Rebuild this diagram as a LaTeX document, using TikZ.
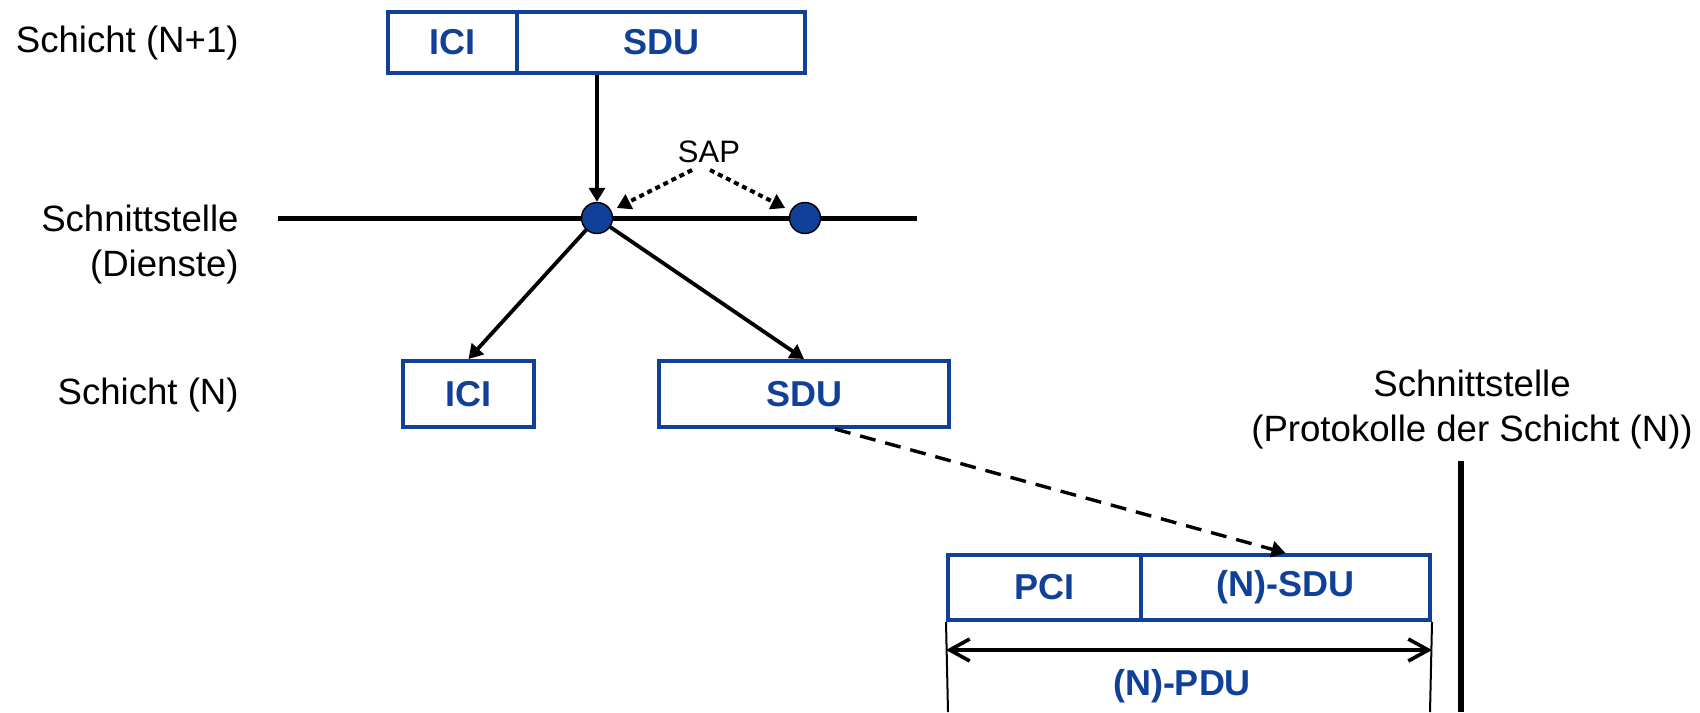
\documentclass[tikz,border=0pt]{standalone}
\usepackage{fontspec}
\setmainfont{Liberation Sans}
\usetikzlibrary{arrows.meta}
\definecolor{osiblue}{RGB}{16,64,152}
\begin{document}
\begin{tikzpicture}[x=0.5pt,y=-0.5pt,
  pdu/.style={draw=osiblue,line width=2pt,rectangle,inner sep=0pt,
    text=osiblue,font=\bfseries\fontsize{18}{22}\selectfont},
  lbl/.style={font=\fontsize{18.3}{22.5}\selectfont,inner sep=0pt},
  sap/.style={circle,fill=osiblue,draw=black,line width=0.7pt,minimum size=15.5pt,inner sep=0pt},
  arr/.style={line width=1.9pt,-{Triangle[length=7pt,width=8pt]}},
  dotarr/.style={line width=2pt,dash pattern=on 2.5pt off 2pt,-{Triangle[length=7pt,width=8pt]}},
  dasharr/.style={line width=1.7pt,dash pattern=on 8pt off 5pt,-{Triangle[length=7pt,width=8pt]}},
  dimarr/.style={line width=1.8pt,{Straight Barb[length=10pt,width=11pt]}-{Straight Barb[length=10pt,width=11pt]}}]
\useasboundingbox (0,0) rectangle (1700,712);

% layer labels
\node[lbl,anchor=east] (lNp1) at (239,43) {Schicht (N+1)};
\node[lbl,anchor=east,align=right] (lIf) at (239,244.5) {Schnittstelle\\(Dienste)};
\node[lbl,anchor=east] (lN) at (239,395) {Schicht (N)};
\node[lbl,align=center] (lProt) at (1472,410) {Schnittstelle\\(Protokolle der Schicht (N))};

% layer (N+1)
\node[pdu,minimum width=64.5pt,minimum height=30.5pt] (ici1) at (452.5,42.5) {ICI};
\node[pdu,minimum width=144pt,minimum height=30.5pt] (sdu1) at (661,42.5) {SDU};

% service interface with access points
\coordinate (ifL) at (278,218);
\coordinate (ifR) at (917,218);
\draw[line width=2.5pt] (ifL) -- (ifR);
\node[sap] (c1) at (597,218) {};
\node[sap] (c2) at (805,218) {};
\node[font=\fontsize{15.5}{18}\selectfont,inner sep=0pt] (saplbl) at (709,152) {SAP};
\coordinate (sapL) at (692,170);
\coordinate (sapR) at (710,170);
\draw[dotarr,shorten >=3pt] (sapL) -- (c1);
\draw[dotarr,shorten >=3pt] (sapR) -- (c2);

\draw[arr] (c1 |- sdu1.south) -- (c1);

% layer (N)
\node[pdu,minimum width=65.5pt,minimum height=33pt] (ici2) at (468.5,394) {ICI};
\node[pdu,minimum width=145pt,minimum height=33pt] (sdu2) at (804,394) {SDU};
\draw[arr] (c1) -- (ici2.north);
\draw[arr] (c1) -- (sdu2.north);

% protocol data unit
\node[pdu,minimum width=96.5pt,minimum height=32.5pt] (pci) at (1044.5,587.5) {PCI};
\node[pdu,minimum width=144.5pt,minimum height=32.5pt] (nsdu) at (1285.5,587.5) {(N)-SDU};
\draw[dasharr] ([xshift=15.5pt]sdu2.south) -- (nsdu.north);

\coordinate (dL) at (948,712);
\coordinate (dR) at (1430,712);
\draw[line width=1pt] (pci.south west) -- (dL);
\draw[line width=1pt] (nsdu.south east) -- (dR);
\draw[dimarr] (pci.south west |- 0,650) -- (nsdu.south east |- 0,650);
\node[text=osiblue,font=\bfseries\fontsize{18}{22}\selectfont,inner sep=0pt] (pdulbl) at (1182,686) {(N)-PDU};

% protocol interface
\coordinate (pTop) at (1461,461);
\coordinate (pBot) at (1461,712);
\draw[line width=3.3pt] (pTop) -- (pBot);
\end{tikzpicture}
\end{document}
